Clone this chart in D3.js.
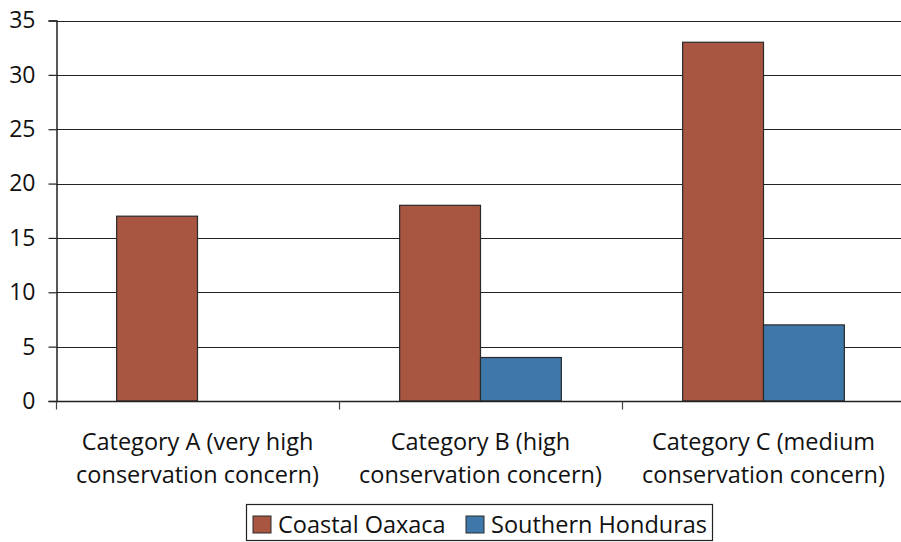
<!DOCTYPE html>
<html>
<head>
<meta charset="utf-8">
<script src="https://cdn.jsdelivr.net/npm/d3@7"></script>
<style>
  html, body { margin: 0; padding: 0; background: #fff; overflow: hidden; }
  text { font-family: "Open Sans", "Noto Sans", sans-serif; fill: #111; }
</style>
</head>
<body>
<svg id="chart" width="901" height="542"></svg>
<script>
const categories = [
  ["Category A (very high", "conservation concern)"],
  ["Category B (high", "conservation concern)"],
  ["Category C (medium", "conservation concern)"]
];
const seriesNames = ["Coastal Oaxaca", "Southern Honduras"];
const coastalOaxaca = [17, 18, 33];
const southernHonduras = [0, 4, 7];
const yTicks = [0, 5, 10, 15, 20, 25, 30, 35];
const colors = ["#a85642", "#3e78aa"];

const svg = d3.select("#chart");
const margin = { left: 56, top: 20.5, bottom: 401 };
const plotRight = 905;

const x = d3.scaleBand()
  .domain(d3.range(categories.length))
  .range([margin.left, plotRight])
  .paddingInner(0).paddingOuter(0);

const x1 = d3.scaleBand()
  .domain(seriesNames)
  .range([0, x.bandwidth()])
  .paddingInner(0)
  .paddingOuter(0.75);

const y = d3.scaleLinear().domain([0, 35]).range([margin.bottom, margin.top]);

// gridlines
svg.append("g")
  .selectAll("line")
  .data(yTicks)
  .join("line")
  .attr("x1", margin.left)
  .attr("x2", plotRight)
  .attr("y1", d => Math.round(y(d)) + 0.5)
  .attr("y2", d => Math.round(y(d)) + 0.5)
  .attr("stroke", "#222")
  .attr("stroke-width", 1.2);

// y axis
const yAxis = svg.append("g")
  .attr("transform", `translate(${margin.left + 0.5},0)`)
  .call(d3.axisLeft(y).tickValues(yTicks).tickSize(8).tickPadding(13));
yAxis.select(".domain").attr("stroke", "#222").attr("stroke-width", 1.5);
yAxis.selectAll(".tick line").attr("stroke", "#222").attr("stroke-width", 1.2);
yAxis.selectAll(".tick text")
  .style("font-family", '"Open Sans", "Noto Sans", sans-serif')
  .style("font-size", "23px").attr("fill", "#111");

// bars
const data = categories.map((c, i) => ({
  i,
  values: [
    { name: seriesNames[0], v: coastalOaxaca[i] },
    { name: seriesNames[1], v: southernHonduras[i] }
  ]
}));

const groups = svg.append("g")
  .selectAll("g")
  .data(data)
  .join("g")
  .attr("transform", d => `translate(${x(d.i)},0)`);

groups.selectAll("rect")
  .data(d => d.values.filter(v => v.v > 0))
  .join("rect")
  .attr("x", d => x1(d.name))
  .attr("y", d => y(d.v))
  .attr("width", x1.bandwidth())
  .attr("height", d => y(0) - y(d.v))
  .attr("fill", d => colors[seriesNames.indexOf(d.name)])
  .attr("stroke", "#2a2a2a")
  .attr("stroke-width", 1.2);

// x axis baseline and ticks
const xAxis = svg.append("g")
  .attr("transform", `translate(0,${Math.round(y(0)) + 0.5})`);
xAxis.append("line")
  .attr("x1", margin.left).attr("x2", plotRight)
  .attr("stroke", "#222").attr("stroke-width", 1.5);
xAxis.selectAll("line.tick")
  .data(d3.range(categories.length + 1))
  .join("line")
  .attr("class", "tick")
  .attr("x1", d => Math.round(margin.left + d * x.bandwidth()) + 0.5)
  .attr("x2", d => Math.round(margin.left + d * x.bandwidth()) + 0.5)
  .attr("y1", 0).attr("y2", 8)
  .attr("stroke", "#444").attr("stroke-width", 1.2);

// category labels
const labels = svg.append("g")
  .selectAll("text")
  .data(categories)
  .join("text")
  .attr("text-anchor", "middle")
  .style("font-size", "23.5px")
  .attr("transform", (d, i) => `translate(${x(i) + x.bandwidth() / 2},0)`);
labels.selectAll("tspan")
  .data(d => d)
  .join("tspan")
  .attr("x", 0)
  .attr("y", (d, j) => 450 + j * 33)
  .text(d => d);

// legend
const legend = svg.append("g");
legend.append("rect")
  .attr("x", 246.5).attr("y", 504.5)
  .attr("width", 466).attr("height", 36)
  .attr("fill", "#fff").attr("stroke", "#222").attr("stroke-width", 1.2);
const legendX = [253, 466];
const items = legend.selectAll("g.item")
  .data(seriesNames)
  .join("g")
  .attr("class", "item")
  .attr("transform", (d, i) => `translate(${legendX[i]},516)`);
items.append("rect")
  .attr("width", 18).attr("height", 17)
  .attr("fill", (d, i) => colors[i])
  .attr("stroke", "#2a2a2a").attr("stroke-width", 1);
items.append("text")
  .attr("x", 25).attr("y", 17)
  .style("font-size", "23.5px")
  .text(d => d);
</script>
</body>
</html>
